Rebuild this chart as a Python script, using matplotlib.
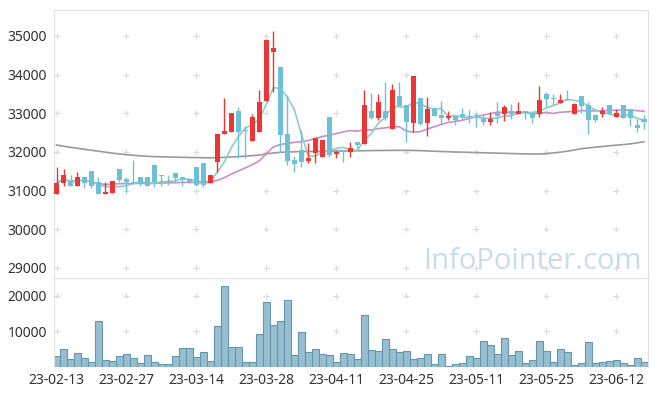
import numpy as np
import pandas as pd
import matplotlib
matplotlib.use("Agg")
import matplotlib.pyplot as plt

plt.rcParams['font.family'] = ['Noto Sans', 'DejaVu Sans']

# ---------------------------------------------------------------------
# data
# ---------------------------------------------------------------------
holidays = ['2023-03-01', '2023-05-01', '2023-05-05', '2023-05-29', '2023-06-06']
days = pd.bdate_range('2023-02-13', '2023-06-16')
days = days[~days.isin(pd.to_datetime(holidays))]

opens  = [30906, 31190, 31259, 31130, 31354, 31509, 31216, 30906, 30948, 31560,
          31302, 31224, 31354, 31354, 31664, 31405, 31250, 31457, 31354, 31293,
          31621, 31707, 31190, 31750, 32457, 32526, 33060, 32560, 32293, 32526,
          33328, 34595, 34190, 32466, 31785, 32052, 31776, 31983, 31880, 32897,
          31940, 32052, 31992, 32259, 32207, 33060, 32888, 33060, 32586, 33448,
          33207, 32741, 33388, 32741, 33104, 32948, 32888, 32940, 32991, 32940,
          32940, 32853, 32785, 33017, 32991, 33060, 32991, 33060, 33000, 32991,
          33500, 33397, 33276, 33380, 32991, 33448, 33216, 32957, 32983, 33216,
          32914, 33216, 33104, 32698, 32862]
highs  = [31621, 31552, 31405, 31491, 31354, 31509, 31345, 31233, 31250, 31560,
          31345, 31793, 31354, 31354, 31664, 31405, 31405, 31457, 31354, 31293,
          31621, 31707, 31405, 32466, 33388, 33009, 33155, 32660, 32974, 33604,
          34922, 35138, 34190, 33474, 31897, 32569, 32224, 32396, 32311, 32897,
          32026, 32052, 32250, 32259, 33604, 33535, 33500, 33819, 33750, 33819,
          33207, 33966, 33388, 33431, 33155, 33328, 33060, 32940, 33129, 33086,
          33000, 32957, 33043, 33285, 33216, 33233, 33285, 33060, 33000, 33707,
          33560, 33500, 33500, 33604, 33276, 33448, 33302, 32957, 33155, 33216,
          33104, 33216, 33104, 32862, 32957]
lows   = [30906, 31130, 31130, 31130, 31078, 31078, 30906, 30906, 30948, 31233,
          30974, 31173, 31130, 31130, 31104, 31130, 31147, 31190, 31130, 31190,
          31130, 31104, 31190, 31491, 32457, 32526, 31837, 31840, 32293, 32526,
          33328, 33561, 31991, 31664, 31491, 31621, 31707, 31707, 31880, 31880,
          31837, 31750, 31880, 32095, 32207, 32845, 32828, 32828, 32586, 33190,
          32267, 32526, 32698, 32414, 32940, 32724, 32828, 32698, 32828, 32741,
          32638, 32698, 32698, 32741, 32802, 32845, 32991, 32845, 32741, 32897,
          33155, 33216, 33276, 33345, 32991, 33017, 32457, 32785, 32897, 32983,
          32914, 32871, 32673, 32526, 32586]
closes = [31190, 31405, 31130, 31354, 31190, 31130, 30906, 30966, 31250, 31285,
          31233, 31198, 31190, 31130, 31233, 31388, 31233, 31336, 31293, 31233,
          31147, 31147, 31405, 32466, 32543, 33009, 32526, 32540, 32897, 33302,
          34896, 34681, 32440, 31776, 31699, 31750, 31845, 32371, 32311, 31923,
          32009, 31992, 32095, 32190, 33216, 32888, 33293, 32888, 33604, 33190,
          32784, 33966, 32724, 33112, 32940, 32888, 32940, 32828, 32914, 32897,
          32922, 32784, 32853, 32931, 33155, 32983, 33060, 33009, 32888, 33345,
          33380, 33371, 33345, 33345, 33241, 33198, 32828, 32828, 33060, 32983,
          33000, 32871, 32871, 32629, 32785]
volume = [3030, 5020, 2180, 3890, 2470, 1330, 12990, 1990, 1610, 3030,
          3600, 2470, 1040, 3320, 1330, 760, 760, 3030, 5310, 5310,
          2750, 4170, 1610, 11570, 22940, 5590, 5590, 1330, 1330, 9290,
          18390, 11850, 12990, 18960, 3320, 9860, 4170, 5020, 3600, 3320,
          1330, 3890, 3600, 2180, 14690, 4740, 4460, 7870, 5020, 4170,
          4460, 2180, 2470, 3600, 760, 3600, 190, 760, 1040, 3030,
          2470, 7300, 6160, 3600, 8150, 3320, 4460, 1040, 1900, 7300,
          4460, 1330, 5020, 4170, 470, 1040, 7020, 1040, 1330, 1610,
          1900, 1040, 470, 2470, 1330]
ma_long = [32180, 32150, 32120, 32095, 32070, 32045, 32020, 31995, 31970, 31948,
           31930, 31915, 31900, 31888, 31880, 31875, 31870, 31865, 31862, 31858,
           31855, 31852, 31850, 31855, 31862, 31870, 31880, 31893, 31905, 31920,
           31950, 31975, 31990, 32000, 32005, 32010, 32013, 32016, 32019, 32022,
           32024, 32026, 32028, 32030, 32033, 32036, 32038, 32040, 32042, 32043,
           32042, 32040, 32035, 32028, 32020, 32013, 32006, 32000, 31995, 31990,
           31985, 31980, 31975, 31970, 31965, 31960, 31955, 31950, 31948, 31948,
           31955, 31975, 31995, 32020, 32050, 32085, 32105, 32125, 32140, 32160,
           32175, 32190, 32210, 32235, 32265]

# ---------------------------------------------------------------------
df = pd.DataFrame({'open': opens, 'high': highs, 'low': lows,
                   'close': closes, 'volume': volume, 'ma_long': ma_long},
                  index=days)
df['ma5'] = df['close'].rolling(5, min_periods=1).mean()
df['ma20'] = df['close'].rolling(20, min_periods=1).mean()

x = np.arange(len(df))
up = df['close'] >= df['open']
RED, BLUE = '#ec3535', '#6cc1d8'
GRID = '#dcdcdc'
SPINE = '#e2e2e2'

fig = plt.figure(figsize=(6.57, 3.96), dpi=100)
ax = fig.add_axes([54 / 657, 1 - 278 / 396, 594 / 657, 268 / 396])
axv = fig.add_axes([54 / 657, 1 - 367 / 396, 594 / 657, 89 / 396], sharex=ax)

tick_idx = list(range(0, len(df), 10))
tick_lab = [days[i].strftime('%y-%m-%d') for i in tick_idx]
price_ticks = [29000, 30000, 31000, 32000, 33000, 34000, 35000]
vol_ticks = [10000, 20000]

# grid crosses
gx, gy = np.meshgrid(tick_idx, price_ticks)
ax.plot(gx.ravel(), gy.ravel(), '+', color=GRID, ms=5, mew=0.9, zorder=0)
gx, gy = np.meshgrid(tick_idx, vol_ticks)
axv.plot(gx.ravel(), gy.ravel(), '+', color=GRID, ms=5, mew=0.9, zorder=0)

# watermark
ax.text(0.622, 0.035, 'InfoPointer.com', transform=ax.transAxes,
        fontsize=21, family='Open Sans', color='#c9dde8', ha='left',
        va='baseline', zorder=1)

# moving averages
ax.plot(x, df['ma_long'], color='#9a9a9a', lw=1.2, zorder=2)
ax.plot(x, df['ma20'], color='#c98fc8', lw=1.2, zorder=2)
ax.plot(x, df['ma5'], color='#8ccfc2', lw=1.2, zorder=2)

# candles
colors = np.where(up, RED, BLUE)
ax.vlines(x, df['low'], df['high'], colors=colors, lw=1.0, zorder=3)
body_bot = np.minimum(df['open'], df['close'])
body_h = np.maximum((df['close'] - df['open']).abs(), 25)
ax.bar(x, body_h, bottom=body_bot, width=0.72, color=colors, lw=0, zorder=4)

ax.set_ylim(28741, 35672)
ax.set_yticks(price_ticks)
ax.set_xlim(-0.36, 84.57)

# volume
axv.bar(x, df['volume'], width=1.0, color='#98bfd0', edgecolor='#6497ae',
        lw=0.8, zorder=2)
axv.set_ylim(0, 25070)
axv.set_yticks(vol_ticks)
axv.set_xticks(tick_idx)
axv.set_xticklabels(tick_lab)

for a in (ax, axv):
    for s in a.spines.values():
        s.set_color(SPINE)
    a.spines['bottom'].set_visible(False)
    a.tick_params(length=0, labelsize=10, labelcolor='#333333', pad=5)
plt.setp(ax.get_xticklabels(), visible=False)
axv.tick_params(axis='x', pad=4)

fig.savefig('out.png', dpi=100)
